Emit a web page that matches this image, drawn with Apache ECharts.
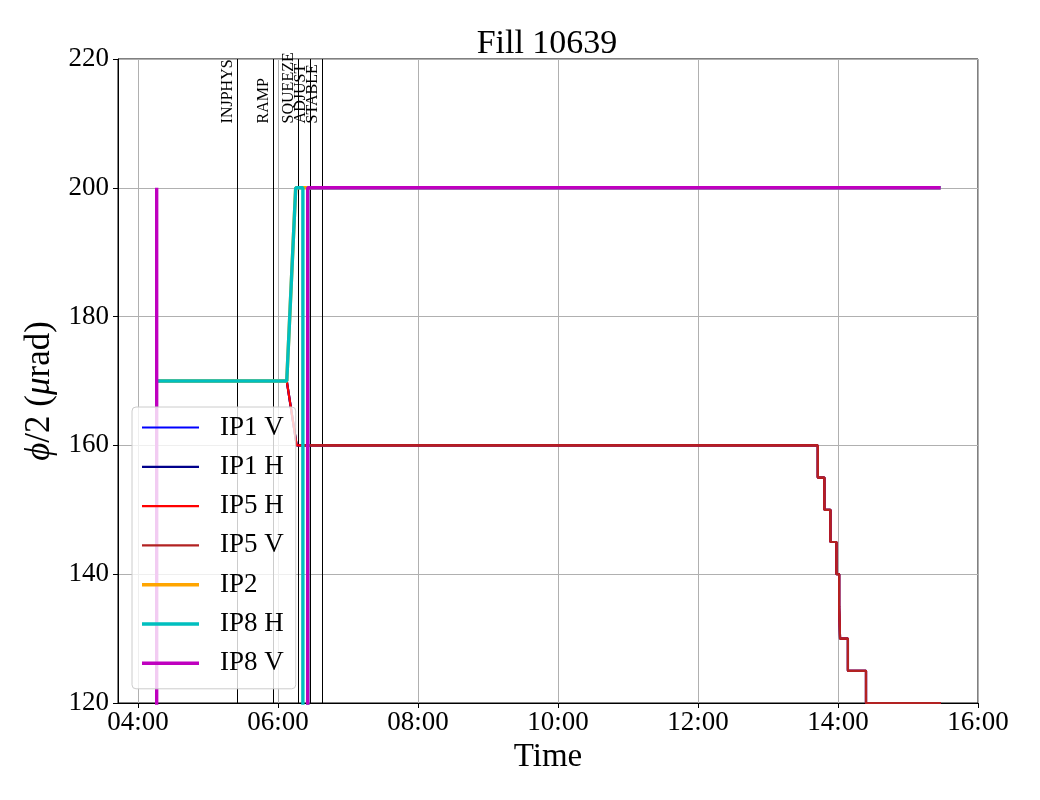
<!DOCTYPE html>
<html>
<head>
<meta charset="utf-8">
<script src="https://cdn.jsdelivr.net/npm/echarts@6/dist/echarts.min.js"></script>
<style>html,body{margin:0;padding:0;background:#fff;}#chart{width:1040px;height:800px;}</style>
</head>
<body>
<div id="chart"></div>
<script>
// ---- data (times as HH:MM:SS, values in µrad) ----
const title = 'Fill 10639';
const xTickHours = [4, 6, 8, 10, 12, 14, 16];
const yTicks = [120, 140, 160, 180, 200, 220];
const xRange = ['03:42:51', '16:00:00'];

const eventNames = ['INJPHYS', 'RAMP', 'SQUEEZE', 'ADJUST', 'STABLE'];
const eventTimes = ['05:25:00', '05:55:30', '06:17:00', '06:27:45', '06:38:00'];

const ip1V = [['04:16:00',170],['06:07:30',170],['06:16:00',160],['13:42:40',160],['13:42:40',155],['13:48:20',155],['13:48:20',150],['13:53:30',150],['13:53:30',145],['13:58:40',145],['13:58:40',140],['14:01:00',140],['14:01:00',135],['14:01:45',135],['14:01:45',130],['14:08:30',130],['14:08:30',125],['14:24:00',125],['14:24:00',120],['15:28:00',120]];
const ip1H = [['04:16:00',170],['06:07:30',170],['06:16:00',160],['13:42:40',160],['13:42:40',155],['13:48:20',155],['13:48:20',150],['13:53:30',150],['13:53:30',145],['13:58:40',145],['13:58:40',140],['14:01:00',140],['14:01:00',135],['14:01:45',135],['14:01:45',130],['14:08:30',130],['14:08:30',125],['14:24:00',125],['14:24:00',120],['15:28:00',120]];
const ip5H = [['04:16:00',170],['06:07:30',170],['06:16:00',160],['13:42:40',160],['13:42:40',155],['13:48:20',155],['13:48:20',150],['13:53:30',150],['13:53:30',145],['13:58:40',145],['13:58:40',140],['14:01:00',140],['14:01:00',135],['14:01:45',135],['14:01:45',130],['14:08:30',130],['14:08:30',125],['14:24:00',125],['14:24:00',120],['15:28:00',120]];
const ip5V = [['06:21:20',160],['13:42:40',160],['13:42:40',155],['13:48:20',155],['13:48:20',150],['13:53:30',150],['13:53:30',145],['13:58:40',145],['13:58:40',140],['14:01:00',140],['14:01:00',135],['14:01:45',135],['14:01:45',130],['14:08:30',130],['14:08:30',125],['14:24:00',125],['14:24:00',120],['15:28:00',120]];
const ip2  = [['04:16:00',170],['06:07:30',170],['06:15:10',200],['15:28:00',200]];
const ip8H = [['04:16:00',170],['06:07:30',170],['06:15:10',200],['06:21:20',200],['06:21:20',0],['06:25:30',0],['06:25:30',200],['15:28:00',200]];
const ip8V = [['04:16:00',200],['04:16:00',0],['06:25:30',0],['06:25:30',200],['15:28:00',200]];

const seriesNames = ['IP1 V','IP1 H','IP5 H','IP5 V','IP2','IP8 H','IP8 V'];
const seriesData = [ip1V, ip1H, ip5H, ip5V, ip2, ip8H, ip8V];
const seriesColors = ['#0000ff','#00008b','#ff0000','#b22222','#ffa500','#00bfbf','#bf00bf'];
const seriesWidths = [2.2, 2.2, 2.2, 2.2, 3.4, 3.4, 3.4];

// ---- helpers ----
function hrs(s){ const p = s.split(':').map(Number); return p[0] + p[1]/60 + (p[2]||0)/3600; }
function pad(n){ return (n < 10 ? '0' : '') + n; }
const FONT = '"Liberation Serif", "Times New Roman", serif';
// legend icon: a horizontal band inside a 57x4 box (tiny corner marks keep the box size)
function bandIcon(w){
  const h = 4, y0 = (h - w) / 2, y1 = y0 + w;
  return 'path://M0,0L0.01,0L0,0.01Z M0,' + y0 + 'H57V' + y1 + 'H0Z M0,' + h + 'L0.01,' + h + 'L0,' + (h-0.01) + 'Z';
}

const lineSeries = seriesNames.map((name, i) => ({
  name: name,
  type: 'line',
  symbol: 'none',
  showSymbol: false,
  color: seriesColors[i],
  lineStyle: { color: seriesColors[i], width: seriesWidths[i] },
  data: seriesData[i].map(d => [hrs(d[0]), d[1]]),
  z: 2
}));

const eventSeries = {
  type: 'custom',
  name: 'events',
  clip: false,
  z: 1,
  silent: true,
  data: eventTimes.map(t => [hrs(t), 210]),
  renderItem: function(params, api){
    const t = api.value(0);
    const top = api.coord([t, 220]);
    const bot = api.coord([t, 120]);
    const lab = api.coord([t, 210]);
    const x = Math.round(top[0]) + 0.5;
    return { type: 'group', children: [
      { type: 'line', shape: { x1: x, y1: top[1], x2: x, y2: bot[1] }, style: { stroke: '#000', lineWidth: 1 } },
      { type: 'text', x: x - 2, y: lab[1], rotation: Math.PI/2,
        style: { text: eventNames[params.dataIndex], fill: '#000', font: '16px ' + FONT, align: 'left', verticalAlign: 'bottom' } }
    ]};
  }
};

const chart = echarts.init(document.getElementById('chart'), null, { renderer: 'canvas' });
chart.setOption({
  animation: false,
  backgroundColor: '#fff',
  title: {
    text: title, left: 542, top: 22, textAlign: 'center',
    textStyle: { fontFamily: FONT, fontSize: 34, fontWeight: 'normal', color: '#000' }
  },
  grid: { left: 118, right: 62, top: 59, bottom: 97, show: true, borderColor: '#000', borderWidth: 1, backgroundColor: 'transparent' },
  legend: {
    orient: 'vertical', left: 132, top: 407,
    data: seriesNames.map((n, i) => ({ name: n, icon: bandIcon(seriesWidths[i]) })),
    itemWidth: 57, itemHeight: 4, itemGap: 12.3,
    symbolKeepAspect: false,
    padding: [7, 12, 12, 10],
    backgroundColor: 'rgba(255,255,255,0.8)',
    borderColor: '#cccccc', borderWidth: 1, borderRadius: 4,
    textStyle: { fontFamily: FONT, fontSize: 27, color: '#000', lineHeight: 27, padding: [0, 0, 0, 16] },
    z: 10
  },
  xAxis: {
    type: 'value',
    min: hrs(xRange[0]), max: hrs(xRange[1]),
    minInterval: 2, maxInterval: 2,
    name: 'Time', nameLocation: 'middle', nameGap: 33,
    nameTextStyle: { fontFamily: FONT, fontSize: 33, color: '#000' },
    axisLine: { show: true, lineStyle: { color: '#000', width: 1 } },
    axisTick: { show: true, inside: false, length: 5, lineStyle: { color: '#000' }, customValues: xTickHours },
    axisLabel: { fontFamily: FONT, fontSize: 27, color: '#000', margin: 6, customValues: xTickHours,
      formatter: v => pad(Math.round(v)) + ':00' },
    splitLine: { show: true, lineStyle: { color: '#b0b0b0', width: 1 } }
  },
  yAxis: {
    type: 'value',
    min: yTicks[0], max: yTicks[yTicks.length-1], interval: 20,
    name: '{i|ϕ}/2 ({i|μ}rad)', nameLocation: 'middle', nameGap: 60,
    nameTextStyle: { fontFamily: FONT, fontSize: 35, color: '#000', padding: [0, 20, 0, 0],
      rich: { i: { fontFamily: FONT, fontSize: 35, fontStyle: 'italic', color: '#000' } } },
    axisLine: { show: true, lineStyle: { color: '#000', width: 1 } },
    axisTick: { show: true, inside: false, length: 5, lineStyle: { color: '#000' } },
    axisLabel: { fontFamily: FONT, fontSize: 27, color: '#000', margin: 9 },
    splitLine: { show: true, lineStyle: { color: '#b0b0b0', width: 1 } }
  },
  series: [eventSeries].concat(lineSeries)
});
</script>
</body>
</html>
